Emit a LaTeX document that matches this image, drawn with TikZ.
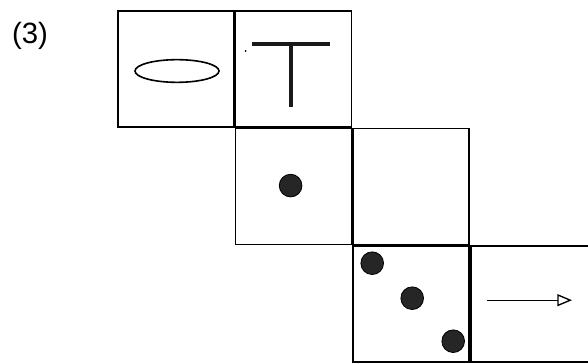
\documentclass[tikz,border=0pt]{standalone}
\usepackage{fontspec}
\setmainfont{Liberation Sans}
\usepackage{tikz}
\usetikzlibrary{arrows.meta, positioning, shapes.geometric}
\tikzset{
  pc-cell/.style={
    rectangle, draw=black, line width=1.2pt, fill=none,
    minimum width=87pt, minimum height=87pt, inner sep=0pt
  },
  pc-grain/.style={
    circle, draw=black, fill=black!85, line width=0.6pt,
    minimum size=17pt, inner sep=0pt
  },
  pc-rod/.style={line width=3pt, draw=black!90},
  pc-flow/.style={-{Triangle[open, length=11pt, width=9pt]}, line width=1pt},
}

\begin{document}
\begin{tikzpicture}[x=0.75pt, y=-0.75pt, node distance=0pt]
  \useasboundingbox (0,0) rectangle (588,363);

  \node[font=\fontsize{22}{25}\selectfont] (tag) at (30,36) {(3)};

  \node[pc-cell] (c11) at (176,69) {};
  \node[pc-cell, right=of c11] (c12) {};
  \node[pc-cell, below=of c12] (c22) {};
  \node[pc-cell, right=of c22] (c23) {};
  \node[pc-cell, below=of c23] (c33) {};
  \node[pc-cell, right=of c33, minimum width=120pt] (c34) {};

  % disc and T-bar
  \node[ellipse, draw, line width=1.2pt, minimum width=63pt, minimum height=17pt]
    (disc) at ([shift={(1,2)}]c11.center) {};
  \coordinate (barL) at ([shift={(-42,-25)}]c12.center);
  \coordinate (barR) at ([shift={(36,-25)}]c12.center);
  \coordinate (stemT) at ([shift={(-3,-25)}]c12.center);
  \coordinate (stemB) at ([shift={(-3,38)}]c12.center);
  \draw[pc-rod] (barL) -- (barR);
  \draw[pc-rod] (stemT) -- (stemB);
  \node[circle, fill=black, inner sep=0pt, minimum size=1.6pt] (speck)
    at ([shift={(-48,-18)}]c12.center) {};

  % grains
  \node[pc-grain] (g1) at ([shift={(-3,-1)}]c22.center) {};
  \node[pc-grain] (g2) at ([shift={(-39,-41)}]c33.center) {};
  \node[pc-grain] (g3) at ([shift={(1,-6)}]c33.center) {};
  \node[pc-grain] (g4) at ([shift={(42,37)}]c33.center) {};

  \coordinate (fromA) at ([shift={(17,-4)}]c34.west);
  \coordinate (toA) at ([shift={(102,-4)}]c34.west);
  \draw[pc-flow] (fromA) -- (toA);

\end{tikzpicture}
\end{document}
